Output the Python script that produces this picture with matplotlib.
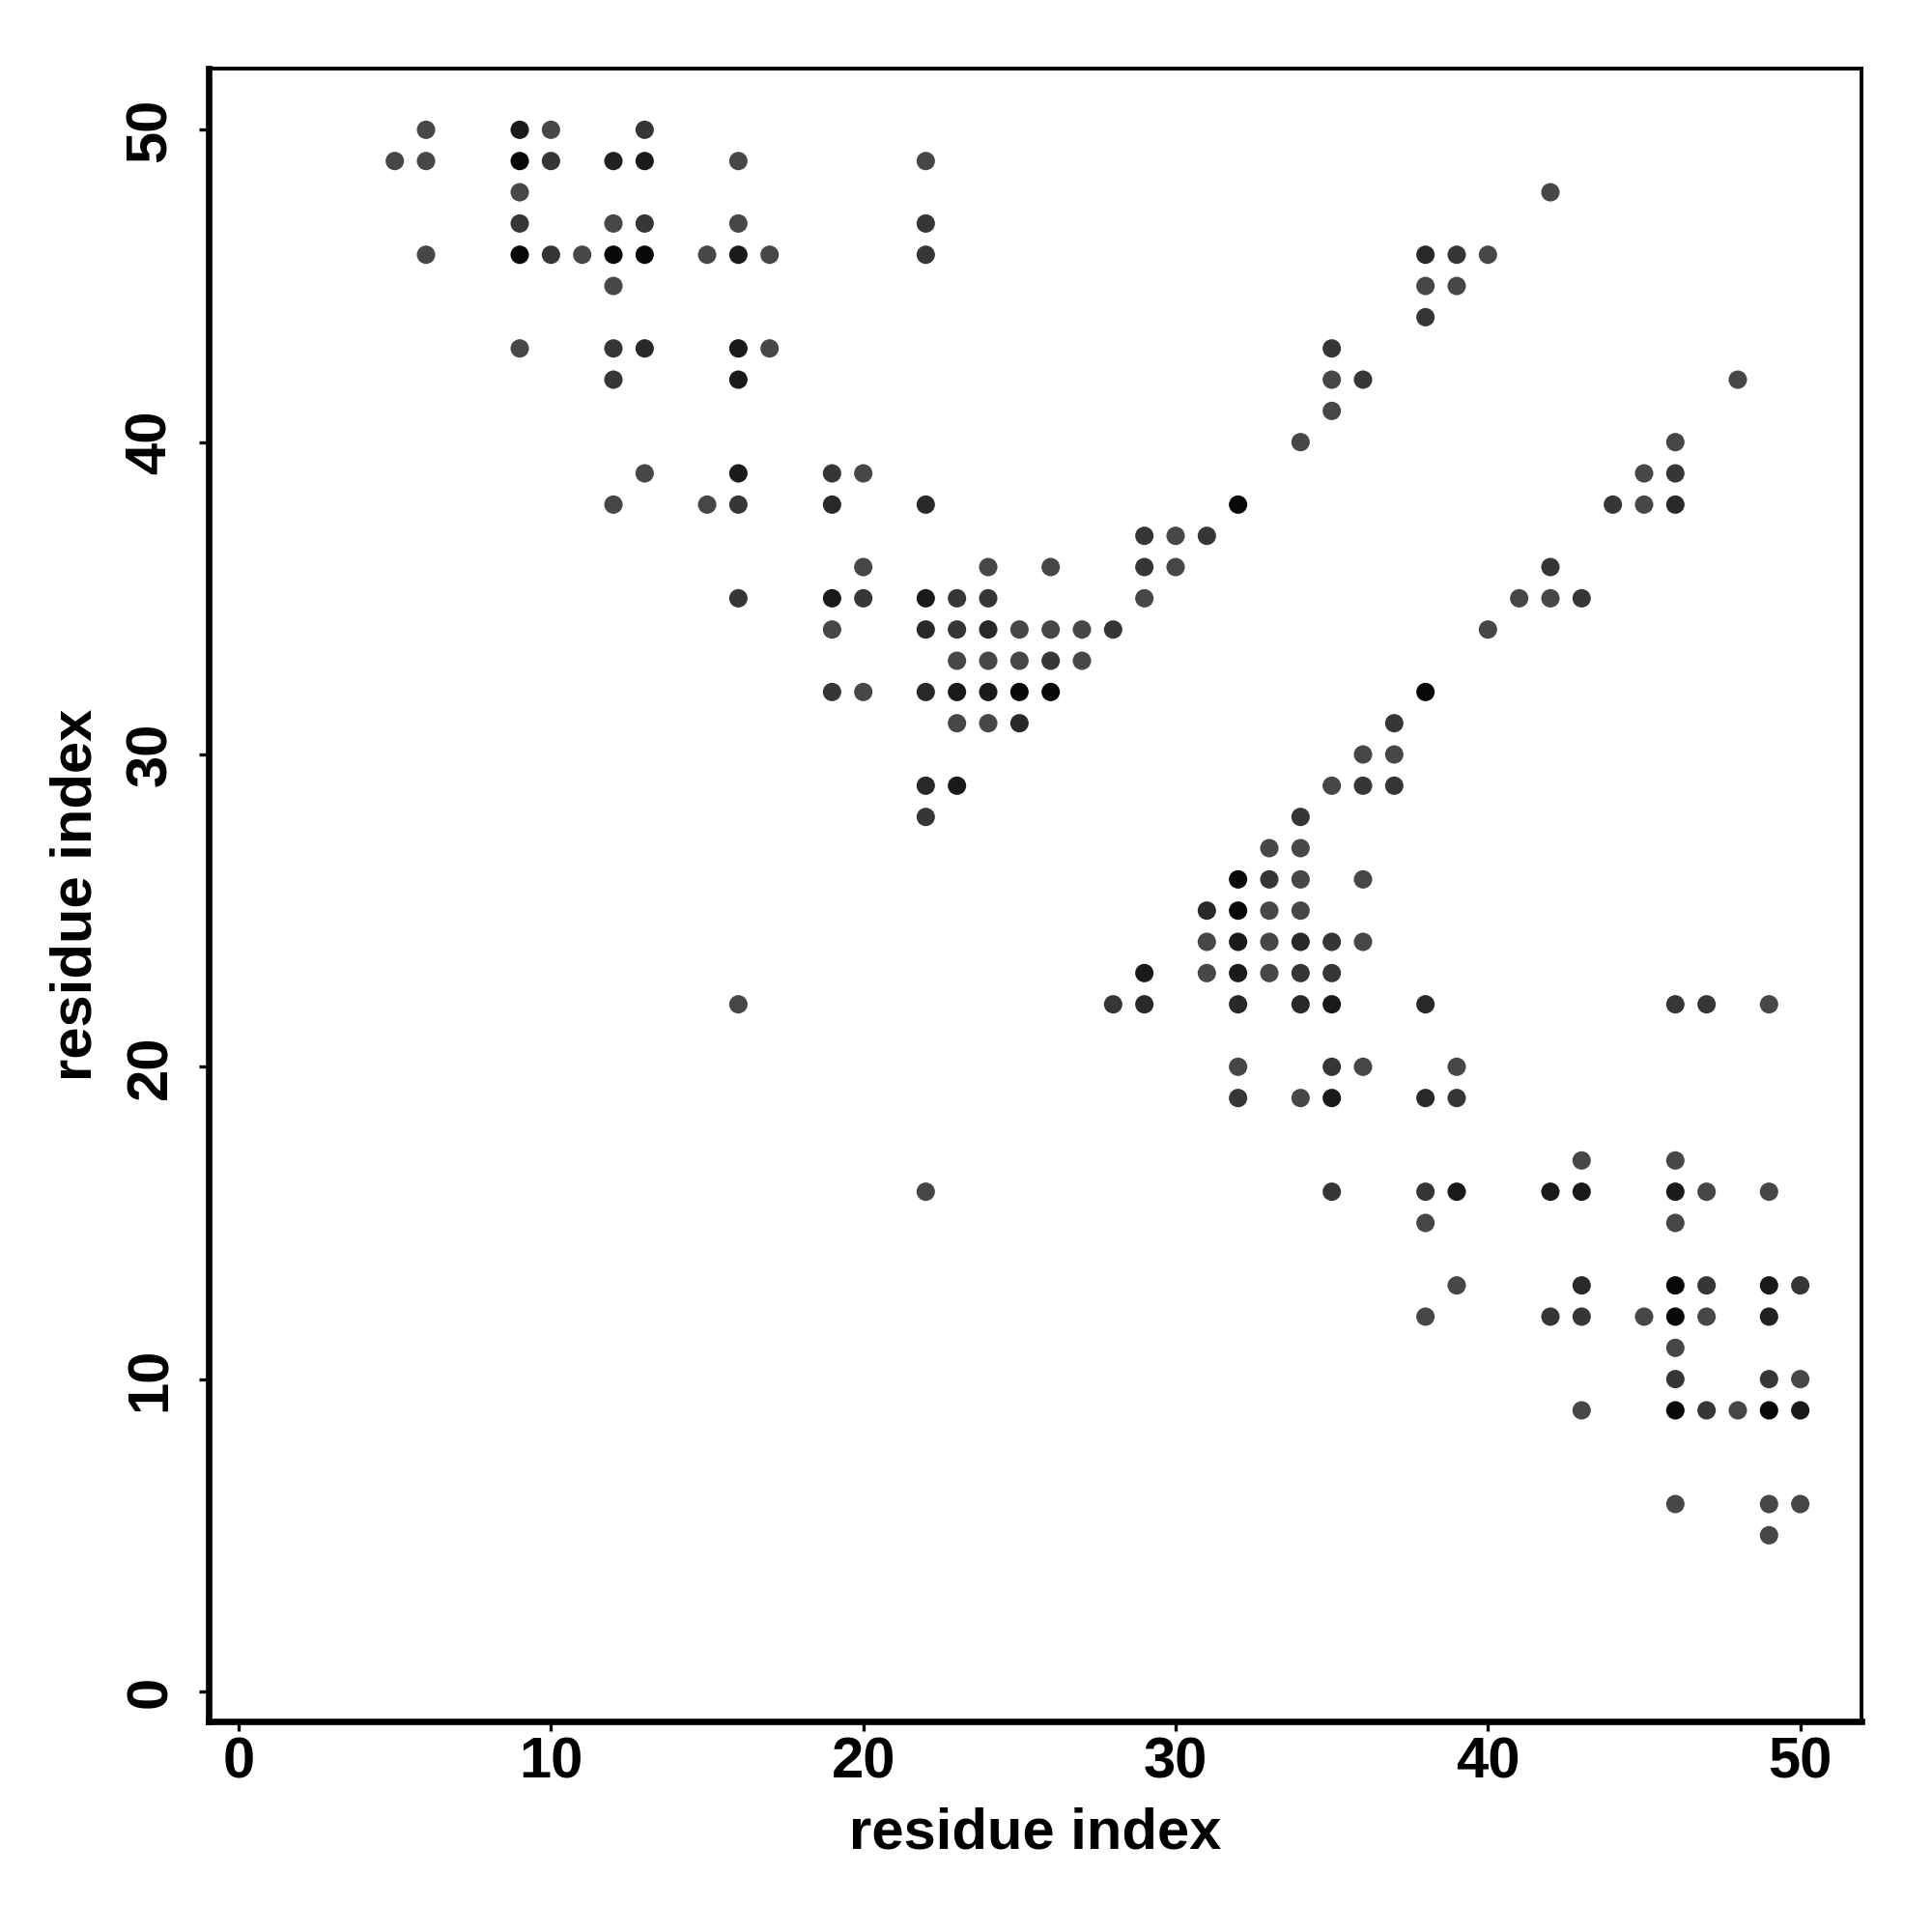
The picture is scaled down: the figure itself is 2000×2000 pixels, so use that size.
import matplotlib
matplotlib.use("Agg")
import matplotlib.pyplot as plt
import numpy as np

# contact pairs (i < j); the map is symmetric so each pair is drawn twice
# grey level per contact: 0 = black, higher = lighter
K, D, DM, M, L = 0.03, 0.10, 0.16, 0.21, 0.28

res_i = [6, 9, 10, 13,
         5, 6, 9, 10, 12, 13, 16, 22,
         9, 42,
         9, 12, 13, 16, 22,
         6, 9, 10, 11, 12, 13, 15, 16, 17, 22, 38, 39, 40,
         12, 38, 39,
         38,
         9, 12, 13, 16, 17, 35,
         12, 16, 35, 36,
         35,
         34,
         13, 16, 19, 20,
         12, 15, 16, 19, 22, 32,
         29, 30, 31,
         20, 24, 26, 29, 30,
         16, 19, 20, 22, 23, 24, 29,
         19, 22, 23, 24, 25, 26, 27, 28,
         23, 24, 25, 26, 27,
         19, 20, 22, 23, 24, 25, 26,
         23, 24, 25,
         22, 23,
         22,
         16]
res_j = [50, 50, 50, 50,
         49, 49, 49, 49, 49, 49, 49, 49,
         48, 48,
         47, 47, 47, 47, 47,
         46, 46, 46, 46, 46, 46, 46, 46, 46, 46, 46, 46, 46,
         45, 45, 45,
         44,
         43, 43, 43, 43, 43, 43,
         42, 42, 42, 42,
         41,
         40,
         39, 39, 39, 39,
         38, 38, 38, 38, 38, 38,
         37, 37, 37,
         36, 36, 36, 36, 36,
         35, 35, 35, 35, 35, 35, 35,
         34, 34, 34, 34, 34, 34, 34, 34,
         33, 33, 33, 33, 33,
         32, 32, 32, 32, 32, 32, 32,
         31, 31, 31,
         29, 29,
         28,
         22]
grey = [L, D, L, M,
        L, L, K, M, 0.13, D, L, L,
        L, L,
        M, L, M, L, M,
        L, K, M, L, K, K, L, D, L, M, DM, M, L,
        L, L, L,
        M,
        L, M, DM, D, L, M,
        M, D, L, M,
        L,
        L,
        L, D, M, L,
        L, L, M, DM, DM, K,
        M, L, M,
        L, L, L, M, L,
        M, D, M, D, M, M, L,
        L, DM, M, DM, L, L, L, M,
        L, L, L, M, L,
        M, L, DM, D, D, K, K,
        L, L, DM,
        DM, D,
        M,
        L]

x = np.array(res_i + res_j)
y = np.array(res_j + res_i)
g = np.array(grey + grey)
colors = [(v, v, v) for v in g]

plt.rcParams['font.family'] = ['Liberation Sans', 'DejaVu Sans']
plt.rcParams['font.weight'] = 'bold'

fig = plt.figure(figsize=(10, 10), dpi=200)
ax = fig.add_axes([0.108, 0.109, 0.8555, 0.8555])
ax.scatter(x, y, s=47, c=colors, linewidths=0)

ax.set_xlim(-0.96, 51.96)
ax.set_ylim(-0.96, 51.96)
ax.set_xticks(range(0, 51, 10))
ax.set_yticks(range(0, 51, 10))
ax.tick_params(axis='both', direction='out', length=3.5, width=1.2,
               labelsize=21.5)
ax.tick_params(axis='x', pad=2)
ax.tick_params(axis='y', pad=8)
for lab in ax.get_yticklabels():
    lab.set_rotation(90)
    lab.set_va('center')
for lab in ax.get_xticklabels() + ax.get_yticklabels():
    lab.set_fontweight('bold')

for s in ['top', 'right']:
    ax.spines[s].set_linewidth(1.4)
for s in ['left', 'bottom']:
    ax.spines[s].set_linewidth(2.4)

ax.set_xlabel('residue index', fontsize=21.5, fontweight='bold', labelpad=6.5)
ax.set_ylabel('residue index', fontsize=21.5, fontweight='bold', labelpad=8)

fig.savefig('out.png', dpi=200)
